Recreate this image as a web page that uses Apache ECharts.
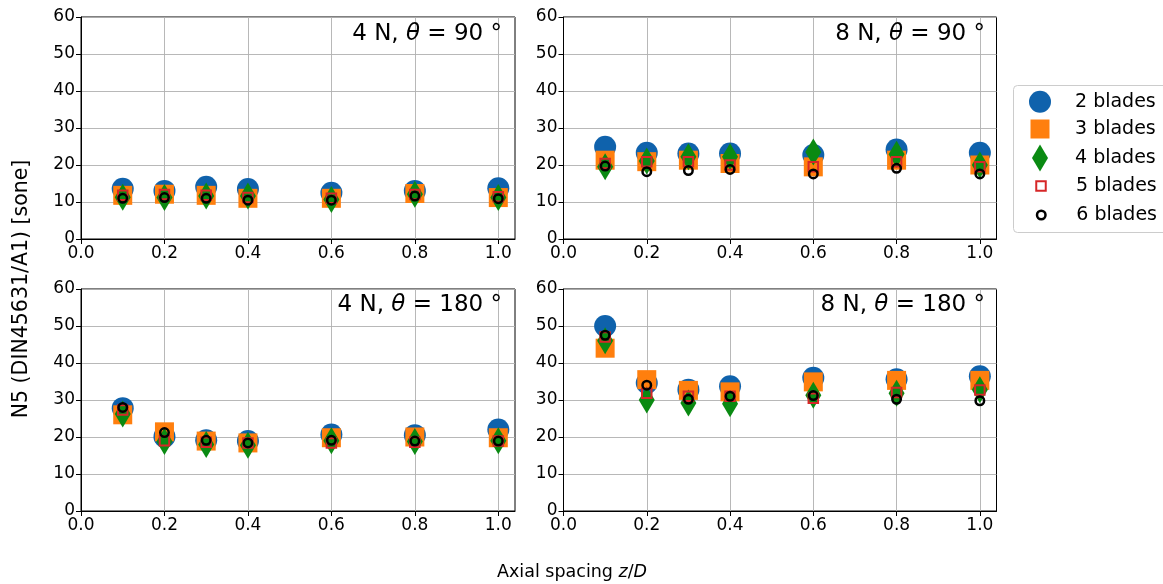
<!DOCTYPE html>
<html>
<head>
<meta charset="utf-8">
<script src="https://cdn.jsdelivr.net/npm/echarts@6/dist/echarts.min.js"></script>
<style>html,body{margin:0;padding:0;background:#fff;}#c{width:1163px;height:584px;}</style>
</head>
<body>
<div id="c"></div>
<script>
// ---- data ----
const spacing = [0.1, 0.2, 0.3, 0.4, 0.6, 0.8, 1.0];
const xTicks = [0.0, 0.2, 0.4, 0.6, 0.8, 1.0];
const yTicks = [0, 10, 20, 30, 40, 50, 60];
const bladeNames = ['2 blades', '3 blades', '4 blades', '5 blades', '6 blades'];
const panelTitles = [
  ['4 N, ', 'θ', ' = 90 °'],
  ['8 N, ', 'θ', ' = 90 °'],
  ['4 N, ', 'θ', ' = 180 °'],
  ['8 N, ', 'θ', ' = 180 °']
];
// 4 N, theta = 90
const n4t90_b2 = [13.6, 13.0, 14.1, 13.5, 12.5, 13.0, 13.7];
const n4t90_b3 = [11.8, 12.1, 11.8, 11.0, 11.0, 12.3, 11.2];
const n4t90_b4 = [11.3, 11.2, 11.6, 11.6, 10.7, 12.1, 11.2];
const n4t90_b5 = [11.8, 12.0, 11.8, 11.2, 11.0, 12.0, 11.4];
const n4t90_b6 = [11.0, 11.2, 11.0, 10.5, 10.5, 11.6, 10.9];
// 8 N, theta = 90
const n8t90_b2 = [24.9, 23.3, 23.1, 23.1, 22.7, 24.2, 23.3];
const n8t90_b3 = [21.3, 20.9, 21.3, 20.4, 19.5, 21.3, 20.0];
const n8t90_b4 = [19.5, 21.1, 22.2, 22.2, 23.5, 22.9, 20.0];
const n8t90_b5 = [20.4, 20.9, 20.9, 20.0, 19.5, 20.9, 19.5];
const n8t90_b6 = [19.7, 18.2, 18.5, 18.8, 17.6, 19.1, 17.6];
// 4 N, theta = 180
const n4t180_b2 = [27.8, 20.1, 19.1, 18.9, 20.7, 20.5, 22.0];
const n4t180_b3 = [26.0, 21.4, 18.9, 18.4, 19.8, 20.0, 19.8];
const n4t180_b4 = [26.2, 18.8, 18.0, 17.8, 19.0, 18.8, 19.0];
const n4t180_b5 = [27.3, 19.0, 18.6, 18.4, 18.4, 18.6, 18.9];
const n4t180_b6 = [28.0, 21.2, 19.1, 18.4, 19.1, 18.9, 18.9];
// 8 N, theta = 180
const n8t180_b2 = [50.0, 34.6, 32.8, 33.7, 36.0, 35.6, 36.4];
const n8t180_b3 = [44.0, 35.5, 32.6, 32.2, 34.9, 35.3, 35.3];
const n8t180_b4 = [46.0, 30.0, 29.2, 29.0, 31.3, 31.8, 32.8];
const n8t180_b5 = [47.0, 31.8, 31.0, 31.0, 30.5, 32.0, 32.7];
const n8t180_b6 = [47.5, 34.0, 30.2, 31.0, 31.2, 30.2, 29.8];

const panels = [
  [n4t90_b2, n4t90_b3, n4t90_b4, n4t90_b5, n4t90_b6],
  [n8t90_b2, n8t90_b3, n8t90_b4, n8t90_b5, n8t90_b6],
  [n4t180_b2, n4t180_b3, n4t180_b4, n4t180_b5, n4t180_b6],
  [n8t180_b2, n8t180_b3, n8t180_b4, n8t180_b5, n8t180_b6]
];

// ---- styles ----
const FONT = 'DejaVu Sans';
const styles = [
  { symbol: 'circle', size: 22, item: { color: '#0f62ac' } },
  { symbol: 'rect', size: 19, item: { color: '#ff7f0e' } },
  { symbol: 'diamond', size: [16, 27], item: { color: '#0a8a12' } },
  { symbol: 'rect', size: 9.5, item: { color: 'rgba(0,0,0,0)', borderColor: '#d62728', borderWidth: 2 } },
  { symbol: 'circle', size: 8.5, item: { color: 'rgba(0,0,0,0)', borderColor: '#000000', borderWidth: 2.5 } }
];
const gridPos = [
  { left: 81, top: 17, width: 434, height: 222 },
  { left: 563.5, top: 17, width: 433, height: 222 },
  { left: 81, top: 289, width: 434, height: 222 },
  { left: 563.5, top: 289, width: 433, height: 222 }
];

const grids = gridPos.map(g => Object.assign({ show: true, borderColor: '#000', borderWidth: 1, backgroundColor: '#fff' }, g));
const xAxes = gridPos.map((g, i) => ({
  type: 'value', gridIndex: i, min: 0, max: 1.04, interval: 0.2,
  axisLine: { show: true, onZero: false, lineStyle: { color: '#000', width: 1 } },
  axisTick: { show: true, length: 5, customValues: xTicks, lineStyle: { color: '#000' } },
  axisLabel: { customValues: xTicks, formatter: v => v.toFixed(1), fontSize: 17, fontFamily: FONT, color: '#000', margin: 6 },
  splitLine: { show: true, lineStyle: { color: '#b0b0b0', width: 0.9 } }
}));
const yAxes = gridPos.map((g, i) => ({
  type: 'value', gridIndex: i, min: 0, max: 60, interval: 10,
  axisLine: { show: true, onZero: false, lineStyle: { color: '#000', width: 1 } },
  axisTick: { show: true, length: 5, customValues: yTicks, lineStyle: { color: '#000' } },
  axisLabel: { customValues: yTicks, fontSize: 17, fontFamily: FONT, color: '#000', margin: 6 },
  splitLine: { show: true, lineStyle: { color: '#b0b0b0', width: 0.9 } }
}));

const series = [];
panels.forEach((vals, p) => {
  vals.forEach((arr, b) => {
    series.push({
      type: 'scatter', name: bladeNames[b], xAxisIndex: p, yAxisIndex: p,
      symbol: styles[b].symbol, symbolSize: styles[b].size,
      itemStyle: Object.assign({ opacity: 1 }, styles[b].item),
      emphasis: { disabled: true },
      z: 2 + b,
      data: spacing.map((x, i) => [x, arr[i]])
    });
  });
});

const titles = panelTitles.map((t, i) => ({
  text: '{a|' + t[0] + '}{b|' + t[1] + '}{a|' + t[2] + '}',
  right: (i % 2 === 0) ? 661 : 178,
  top: (i < 2) ? 23 : 294,
  padding: 0,
  textStyle: {
    fontWeight: 'normal',
    rich: {
      a: { fontSize: 23, fontFamily: FONT, fontWeight: 'normal', color: '#000' },
      b: { fontSize: 23, fontFamily: FONT, fontWeight: 'normal', fontStyle: 'italic', color: '#000' }
    }
  }
}));
titles.push({
  text: '{a|Axial spacing }{b|z}{a|/}{b|D}',
  left: 497, top: 563, padding: 0,
  textStyle: { fontWeight: 'normal', rich: {
    a: { fontSize: 17.5, fontFamily: FONT, fontWeight: 'normal', color: '#000' },
    b: { fontSize: 17.5, fontFamily: FONT, fontWeight: 'normal', fontStyle: 'italic', color: '#000' }
  } }
});

// legend: one component per entry so each icon keeps its own size
const legendCenters = [101.7, 130, 158, 187, 216];
const legendIcon = [[22, 22], [19, 19], [16, 27], [9.5, 9.5], [8.5, 8.5]];
const legends = bladeNames.map((n, b) => {
  const w = legendIcon[b][0], h = legendIcon[b][1];
  return {
    orient: 'horizontal', left: 1040 - w / 2, top: legendCenters[b] - Math.max(h, 21) / 2, padding: 0,
    itemWidth: w, itemHeight: h, symbolKeepAspect: b !== 2,
    selectedMode: false,
    data: [{ name: n, icon: styles[b].symbol, itemStyle: Object.assign({}, styles[b].item) }],
    textStyle: { fontSize: 19, fontFamily: FONT, color: '#000', padding: [0, 0, 0, 30 - w / 2] }
  };
});

const option = {
  animation: false,
  backgroundColor: '#fff',
  grid: grids, xAxis: xAxes, yAxis: yAxes,
  title: titles,
  legend: legends,
  graphic: [
    { type: 'rect', z: -1, shape: { x: 1013.5, y: 85.5, width: 160, height: 147, r: 4 },
      style: { fill: '#fff', stroke: '#cccccc', lineWidth: 1 } },
    { type: 'text', x: 22, y: 289, rotation: Math.PI / 2,
      style: { text: 'N5 (DIN45631/A1) [sone]', font: '20.5px "DejaVu Sans"', fill: '#000', align: 'center', verticalAlign: 'middle' } }
  ],
  series: series
};
const chart = echarts.init(document.getElementById('c'), null, { renderer: 'canvas' });
chart.setOption(option);
</script>
</body>
</html>
